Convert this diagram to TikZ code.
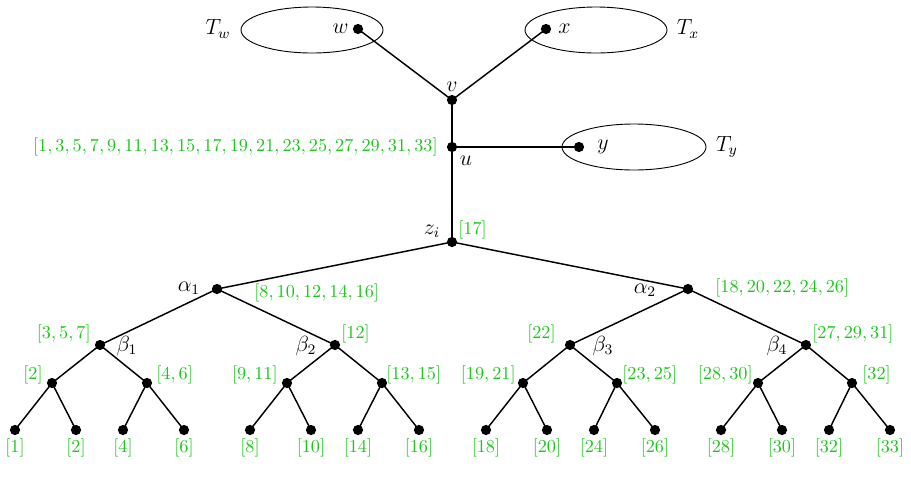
\documentclass[tikz,border=0pt]{standalone}
\usepackage{xcolor}
\definecolor{lblgreen}{RGB}{25,200,25}
\begin{document}
\begin{tikzpicture}[x=0.548pt,y=-0.548pt,
  dot/.style={circle,fill=black,inner sep=0pt,minimum size=5.6pt},
  edge/.style={line width=0.8pt},
  lbl/.style={inner sep=0pt,font=\large},
  gl/.style={inner sep=0pt,text=lblgreen},
  tree/.style={draw,line width=0.5pt}]
\useasboundingbox (0,0) rectangle (911,498);
% subtrees
\draw[tree] (312,30) ellipse [x radius=71,y radius=23];
\draw[tree] (596,30) ellipse [x radius=71,y radius=23];
\draw[tree] (634,147) ellipse [x radius=72,y radius=23];
% nodes
\node[dot] (w) at (358,29) {};
\node[dot] (x) at (546,29) {};
\node[dot] (v) at (452,100) {};
\node[dot] (u) at (452,147) {};
\node[dot] (y) at (579,147) {};
\node[dot] (z) at (452,242) {};
\node[dot] (a1) at (217,289) {};
\node[dot] (a2) at (688,289) {};
\node[dot] (b1) at (100,345) {};
\node[dot] (b2) at (335,345) {};
\node[dot] (b3) at (570,345) {};
\node[dot] (b4) at (806,345) {};
\node[dot] (c1) at (52,383) {};
\node[dot] (c2) at (147,383) {};
\node[dot] (c3) at (287,383) {};
\node[dot] (c4) at (382,383) {};
\node[dot] (c5) at (523,383) {};
\node[dot] (c6) at (617,383) {};
\node[dot] (c7) at (758,383) {};
\node[dot] (c8) at (852,383) {};
\foreach \i/\xx in {1/15,2/76,3/123,4/184,5/250,6/311,7/358,8/419,9/486,10/547,11/594,12/655,13/721,14/782,15/829,16/890}
  \node[dot] (l\i) at (\xx,430) {};
% edges
\draw[edge] (w.center) -- (v.center) -- (x.center);
\draw[edge] (v.center) -- (u.center) -- (z.center);
\draw[edge] (u.center) -- (y.center);
\draw[edge] (a1.center) -- (z.center) -- (a2.center);
\draw[edge] (b1.center) -- (a1.center) -- (b2.center);
\draw[edge] (b3.center) -- (a2.center) -- (b4.center);
\draw[edge] (c1.center) -- (b1.center) -- (c2.center);
\draw[edge] (c3.center) -- (b2.center) -- (c4.center);
\draw[edge] (c5.center) -- (b3.center) -- (c6.center);
\draw[edge] (c7.center) -- (b4.center) -- (c8.center);
\draw[edge] (l1.center) -- (c1.center) -- (l2.center);
\draw[edge] (l3.center) -- (c2.center) -- (l4.center);
\draw[edge] (l5.center) -- (c3.center) -- (l6.center);
\draw[edge] (l7.center) -- (c4.center) -- (l8.center);
\draw[edge] (l9.center) -- (c5.center) -- (l10.center);
\draw[edge] (l11.center) -- (c6.center) -- (l12.center);
\draw[edge] (l13.center) -- (c7.center) -- (l14.center);
\draw[edge] (l15.center) -- (c8.center) -- (l16.center);
% black labels
\node[lbl] (tw) at (218,29) {$T_w$};
\node[lbl] (tx) at (688,29) {$T_x$};
\node[lbl] (ty) at (727,147) {$T_y$};
\node[lbl,anchor=east] (wl) at (349,29) {$w$};
\node[lbl,anchor=west] (xl) at (558,29) {$x$};
\node[lbl,anchor=west] (yl) at (597,147) {$y$};
\node[lbl] (vl) at (452,87) {$v$};
\node[lbl] (ul) at (466,161) {$u$};
\node[lbl] (zl) at (432,231) {$z_i$};
\node[lbl] (a1l) at (189,288) {$\alpha_1$};
\node[lbl] (a2l) at (645,290) {$\alpha_2$};
\node[lbl] (b1l) at (127,346) {$\beta_1$};
\node[lbl] (b2l) at (306,346) {$\beta_2$};
\node[lbl] (b3l) at (603,346) {$\beta_3$};
\node[lbl] (b4l) at (777,346) {$\beta_4$};
% green labels
\node[gl,anchor=east] (ug) at (438,147) {$[1,3,5,7,9,11,13,15,17,19,21,23,25,27,29,31,33]$};
\node[gl,anchor=west] (zg) at (458,230) {$[17]$};
\node[gl,anchor=west] (a1g) at (254,293) {$[8,10,12,14,16]$};
\node[gl,anchor=west] (a2g) at (715,288) {$[18,20,22,24,26]$};
\node[gl,anchor=east] (b1g) at (91,334) {$[3,5,7]$};
\node[gl,anchor=west] (b2g) at (341,334) {$[12]$};
\node[gl,anchor=east] (b3g) at (556,334) {$[22]$};
\node[gl,anchor=west] (b4g) at (812,334) {$[27,29,31]$};
\node[gl,anchor=east] (c1g) at (43,375) {$[2]$};
\node[gl,anchor=west] (c2g) at (156,375) {$[4,6]$};
\node[gl,anchor=east] (c3g) at (278,375) {$[9,11]$};
\node[gl,anchor=west] (c4g) at (386,375) {$[13,15]$};
\node[gl,anchor=east] (c5g) at (516,375) {$[19,21]$};
\node[gl,anchor=west] (c6g) at (622,375) {$[23,25]$};
\node[gl,anchor=east] (c7g) at (753,375) {$[28,30]$};
\node[gl,anchor=west] (c8g) at (862,375) {$[32]$};
\foreach \i/\t in {1/1,2/2,3/4,4/6,5/8,6/10,7/14,8/16,9/18,10/20,11/24,12/26,13/28,14/30,15/32,16/33}
  \node[gl] (lg\i) at ([yshift=-10pt]l\i.center) {$[\t]$};
\end{tikzpicture}
\end{document}
